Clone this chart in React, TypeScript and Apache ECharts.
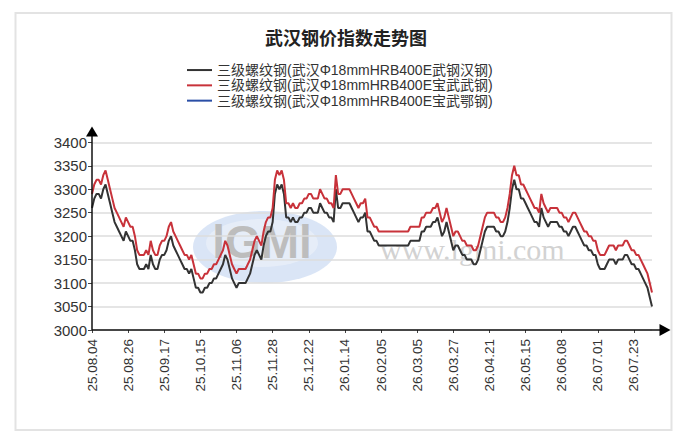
import React, { useEffect, useRef } from "react";
import * as echarts from "echarts";

const tickLabels = [
  "25.08.04", "25.08.26", "25.09.17", "25.10.15", "25.11.06", "25.11.28",
  "25.12.22", "26.01.14", "26.02.05", "26.03.05", "26.03.27", "26.04.21",
  "26.05.15", "26.06.08", "26.07.01", "26.07.23",
];

const seriesNames = [
  "三级螺纹钢(武汉Φ18mmHRB400E武钢汉钢)",
  "三级螺纹钢(武汉Φ18mmHRB400E宝武武钢)",
  "三级螺纹钢(武汉Φ18mmHRB400E宝武鄂钢)",
];

const wugangHangang = [
  3260, 3280, 3290, 3290, 3280, 3300, 3310, 3290, 3270, 3250,
  3230, 3220, 3210, 3200, 3190, 3210, 3200, 3190, 3190, 3170,
  3140, 3130, 3130, 3130, 3140, 3130, 3160, 3140, 3130, 3130,
  3150, 3160, 3160, 3170, 3190, 3200, 3180, 3170, 3160, 3150,
  3140, 3130, 3130, 3120, 3130, 3110, 3090, 3090, 3080, 3080,
  3090, 3090, 3100, 3100, 3110, 3110, 3120, 3130, 3140, 3160,
  3150, 3130, 3110, 3100, 3090, 3100, 3100, 3100, 3100, 3110,
  3120, 3140, 3160, 3170, 3160, 3150, 3180, 3200, 3210, 3210,
  3230, 3290, 3310, 3300, 3310, 3290, 3240, 3240, 3230, 3240,
  3230, 3230, 3240, 3240, 3250, 3250, 3260, 3260, 3250, 3250,
  3250, 3270, 3260, 3250, 3250, 3240, 3240, 3230, 3300, 3260,
  3260, 3270, 3270, 3270, 3270, 3260, 3250, 3240, 3230, 3240,
  3240, 3250, 3210, 3210, 3200, 3190, 3190, 3180, 3180, 3180,
  3180, 3180, 3180, 3180, 3180, 3180, 3180, 3180, 3180, 3180,
  3180, 3190, 3190, 3190, 3190, 3190, 3210, 3210, 3220, 3220,
  3220, 3230, 3230, 3240, 3220, 3200, 3210, 3230, 3210, 3190,
  3170, 3180, 3180, 3170, 3160, 3160, 3150, 3150, 3150, 3140,
  3140, 3150, 3170, 3190, 3210, 3220, 3220, 3220, 3220, 3210,
  3210, 3200, 3200, 3210, 3230, 3260, 3300, 3320, 3300, 3300,
  3280, 3280, 3270, 3260, 3250, 3240, 3230, 3230, 3220, 3260,
  3240, 3230, 3220, 3230, 3230, 3230, 3230, 3220, 3220, 3210,
  3210, 3200, 3210, 3220, 3220, 3210, 3200, 3190, 3180, 3180,
  3170, 3170, 3160, 3160, 3140, 3130, 3130, 3130, 3140, 3150,
  3150, 3150, 3140, 3150, 3150, 3150, 3160, 3160, 3150, 3140,
  3140, 3130, 3130, 3120, 3110, 3100, 3090, 3070, 3050,
];

const baowuWugang = [
  3290, 3310, 3320, 3320, 3310, 3330, 3340, 3320, 3300, 3280,
  3260, 3250, 3240, 3230, 3220, 3240, 3230, 3220, 3220, 3200,
  3170, 3160, 3160, 3160, 3170, 3160, 3190, 3170, 3160, 3160,
  3180, 3190, 3190, 3200, 3220, 3230, 3210, 3200, 3190, 3180,
  3170, 3160, 3160, 3150, 3160, 3140, 3120, 3120, 3110, 3110,
  3120, 3120, 3130, 3130, 3140, 3140, 3150, 3160, 3170, 3190,
  3180, 3160, 3140, 3130, 3120, 3130, 3130, 3130, 3130, 3140,
  3150, 3170, 3190, 3200, 3190, 3180, 3210, 3230, 3240, 3240,
  3260, 3320, 3340, 3330, 3340, 3320, 3270, 3270, 3260, 3270,
  3260, 3260, 3270, 3270, 3280, 3280, 3290, 3290, 3280, 3280,
  3280, 3300, 3290, 3280, 3280, 3270, 3270, 3260, 3330, 3290,
  3290, 3300, 3300, 3300, 3300, 3290, 3280, 3270, 3260, 3270,
  3270, 3280, 3240, 3240, 3230, 3220, 3220, 3210, 3210, 3210,
  3210, 3210, 3210, 3210, 3210, 3210, 3210, 3210, 3210, 3210,
  3210, 3220, 3220, 3220, 3220, 3220, 3240, 3240, 3250, 3250,
  3250, 3260, 3260, 3270, 3250, 3230, 3240, 3260, 3240, 3220,
  3200, 3210, 3210, 3200, 3190, 3190, 3180, 3180, 3180, 3170,
  3170, 3180, 3200, 3220, 3240, 3250, 3250, 3250, 3250, 3240,
  3240, 3230, 3230, 3240, 3260, 3290, 3330, 3350, 3330, 3330,
  3310, 3310, 3300, 3290, 3280, 3270, 3260, 3260, 3250, 3290,
  3270, 3260, 3250, 3260, 3260, 3260, 3260, 3250, 3250, 3240,
  3240, 3230, 3240, 3250, 3250, 3240, 3230, 3220, 3210, 3210,
  3200, 3200, 3190, 3190, 3170, 3160, 3160, 3160, 3170, 3180,
  3180, 3180, 3170, 3180, 3180, 3180, 3190, 3190, 3180, 3170,
  3170, 3160, 3160, 3150, 3140, 3130, 3120, 3100, 3080,
];

const baowuEgang: number[] = [];

const colors = ["#333333", "#c8323a", "#2a4ea6"];

export default function App() {
  const ref = useRef<HTMLDivElement>(null);

  useEffect(() => {
    document.body.style.margin = "0";
    if (!ref.current) return;
    const chart = echarts.init(ref.current, undefined, { renderer: "svg" });
    const ticks = tickLabels.map((_, i) => i * 16);
    const lastIndex = wugangHangang.length - 1;

    chart.setOption({
      animation: false,
      backgroundColor: "#ffffff",
      title: {
        text: "武汉钢价指数走势图",
        left: "center",
        top: 23,
        textStyle: {
          fontSize: 18,
          fontWeight: "bold",
          color: "#222",
          fontFamily: "'Noto Sans CJK SC', 'Liberation Sans', sans-serif",
        },
      },
      legend: {
        orient: "vertical",
        left: 187,
        top: 62.4,
        padding: 0,
        itemGap: 0,
        itemWidth: 25,
        itemHeight: 2,
        icon: "rect",
        data: seriesNames,
        textStyle: {
          fontSize: 14,
          lineHeight: 15.3,
          color: "#333",
          fontFamily: "'Liberation Sans', 'Noto Sans CJK SC', sans-serif",
        },
      },
      grid: { left: 92, right: 40, top: 142.3, bottom: 114, containLabel: false },
      xAxis: {
        type: "value",
        min: 0,
        max: lastIndex,
        interval: 16,
        axisLine: { show: false },
        splitLine: { show: false },
        axisTick: {
          show: true,
          length: 3,
          customValues: ticks,
          lineStyle: { color: "#444" },
        },
        axisLabel: {
          customValues: ticks,
          rotate: 90,
          margin: 9,
          fontSize: 13.5,
          color: "#333",
          fontFamily: "'Liberation Sans', sans-serif",
          formatter: (v: number) => tickLabels[Math.round(v / 16)] ?? "",
        },
      },
      yAxis: {
        type: "value",
        min: 3000,
        max: 3400,
        interval: 50,
        axisLine: { show: false },
        axisTick: { show: true, length: 4, lineStyle: { color: "#444" } },
        axisLabel: {
          margin: 5,
          fontSize: 15,
          color: "#333",
          fontFamily: "'Liberation Sans', sans-serif",
          formatter: (v: number) => String(v),
        },
        splitLine: { show: true, lineStyle: { color: "#dcdcdc", width: 1.5 } },
      },
      series: [
        {
          name: seriesNames[0],
          type: "line",
          data: wugangHangang.map((v, i) => [i, v]),
          showSymbol: false,
          lineStyle: { color: colors[0], width: 2 },
          itemStyle: { color: colors[0] },
          z: 3,
        },
        {
          name: seriesNames[1],
          type: "line",
          data: baowuWugang.map((v, i) => [i, v]),
          showSymbol: false,
          lineStyle: { color: colors[1], width: 2 },
          itemStyle: { color: colors[1] },
          z: 3,
        },
        {
          name: seriesNames[2],
          type: "line",
          data: baowuEgang.map((v, i) => [i, v]),
          showSymbol: false,
          lineStyle: { color: colors[2], width: 2 },
          itemStyle: { color: colors[2] },
          z: 3,
        },
      ],
      graphic: [
        {
          type: "rect",
          shape: { x: 15.5, y: 13, width: 656, height: 417 },
          style: { fill: "none", stroke: "#e3e3e3", lineWidth: 2 },
          z: 0,
        },
        {
          type: "ellipse",
          shape: { cx: 265, cy: 247, rx: 72, ry: 36 },
          style: { fill: "#d3e0f4", opacity: 0.85 },
          z: 0,
        },
        {
          type: "ellipse",
          shape: { cx: 262, cy: 243, rx: 56, ry: 24 },
          style: { fill: "#e8eff9", opacity: 0.8 },
          z: 0,
        },
        {
          type: "text",
          x: 262,
          y: 242,
          style: {
            text: "lGMl",
            fill: "#bdbdbd",
            font: "bold 46px 'Liberation Sans', sans-serif",
            align: "center",
            verticalAlign: "middle",
          },
          z: 0,
        },
        {
          type: "text",
          x: 380,
          y: 249,
          style: {
            text: "www.lgmi.com",
            fill: "#d2d2d2",
            font: "30px 'Liberation Serif', serif",
            align: "left",
            verticalAlign: "middle",
          },
          z: 0,
        },
        {
          type: "line",
          shape: { x1: 92, y1: 330, x2: 92, y2: 135 },
          style: { stroke: "#111", lineWidth: 1.5 },
          z: 10,
        },
        {
          type: "polygon",
          shape: { points: [[92, 126.5], [86, 136.5], [98, 136.5]] },
          style: { fill: "#000" },
          z: 10,
        },
        {
          type: "line",
          shape: { x1: 92, y1: 330, x2: 661, y2: 330 },
          style: { stroke: "#111", lineWidth: 1.5 },
          z: 10,
        },
        {
          type: "polygon",
          shape: { points: [[670.5, 330], [659.5, 324], [659.5, 336]] },
          style: { fill: "#000" },
          z: 10,
        },
      ],
    });

    return () => chart.dispose();
  }, []);

  return <div ref={ref} style={{ width: 692, height: 444 }} />;
}
